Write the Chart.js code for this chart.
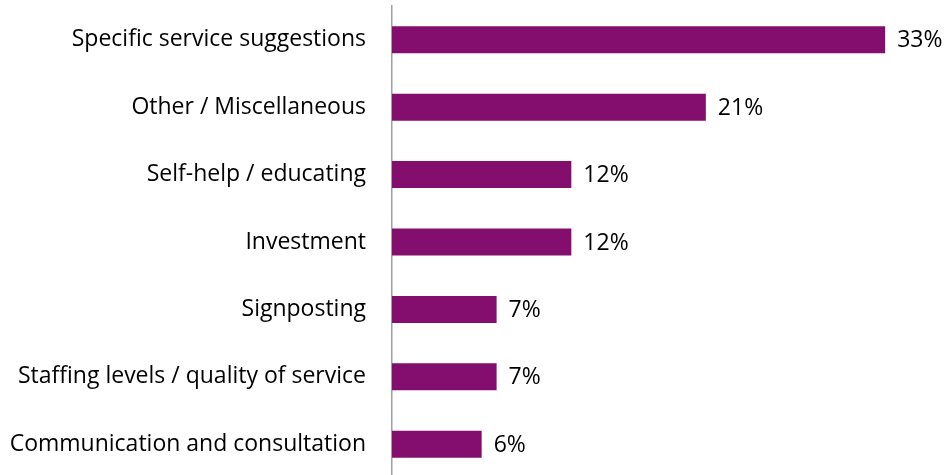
<!DOCTYPE html>
<html>
<head>
<meta charset="utf-8">
<script src="https://cdn.jsdelivr.net/npm/chart.js@4/dist/chart.umd.min.js"></script>
<style>
  html, body { margin: 0; padding: 0; background: #fff; overflow: hidden; }
  canvas { display: block; }
</style>
</head>
<body>
<canvas id="chart" width="944" height="478"></canvas>
<script>
// Share of comments by theme (%)
const categories = [
  'Specific service suggestions',
  'Other / Miscellaneous',
  'Self-help / educating',
  'Investment',
  'Signposting',
  'Staffing levels / quality of service',
  'Communication and consultation'
];
const shares = [33, 21, 12, 12, 7, 7, 6];

const FONT = '"Open Sans", Lato, sans-serif';
const FONT_SIZE = 23;

// Prints the percentage just past the end of each bar
const valueLabels = {
  id: 'valueLabels',
  afterDatasetsDraw(chart) {
    const ctx = chart.ctx;
    const meta = chart.getDatasetMeta(0);
    ctx.save();
    ctx.font = FONT_SIZE + 'px ' + FONT;
    ctx.fillStyle = '#000';
    ctx.textAlign = 'left';
    ctx.textBaseline = 'middle';
    meta.data.forEach((bar, i) => {
      ctx.fillText(shares[i] + '%', bar.x + 12, bar.y + 1);
    });
    ctx.restore();
  }
};

new Chart(document.getElementById('chart'), {
  type: 'bar',
  data: {
    labels: categories,
    datasets: [{
      data: shares,
      backgroundColor: '#840E6D',
      borderWidth: 0,
      categoryPercentage: 1,
      barPercentage: 0.4
    }]
  },
  options: {
    indexAxis: 'y',
    responsive: false,
    animation: false,
    layout: { padding: { top: 6, right: 14, bottom: 0, left: 0 } },
    plugins: {
      legend: { display: false },
      tooltip: { enabled: false }
    },
    scales: {
      x: {
        min: 0,
        max: 36,
        display: false
      },
      y: {
        afterFit(scale) {
          // fixed label column; bands run the full height
          scale.width = 392;
          scale.paddingTop = 0;
          scale.paddingBottom = 0;
        },
        grid: { display: false, drawTicks: false },
        border: { display: true, color: '#a0a0a0', width: 1.5 },
        ticks: {
          padding: 26,
          color: '#000',
          font: { family: FONT, size: FONT_SIZE }
        }
      }
    }
  },
  plugins: [valueLabels]
});
</script>
</body>
</html>
